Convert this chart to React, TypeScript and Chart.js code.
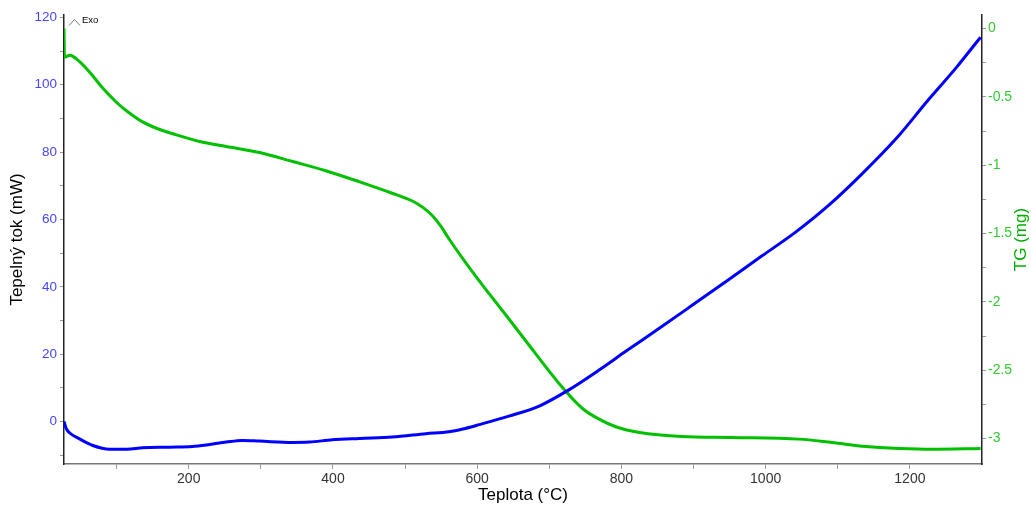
import React, { useEffect, useRef } from 'react';
import { Chart, registerables } from 'chart.js';

Chart.register(...registerables);

// DSC curve (heat flow, mW) vs temperature (°C)
const dscTemp = [27, 30, 35, 49, 67, 90, 114, 136, 173, 205, 229, 252, 274, 298, 344, 367, 399, 437, 482, 529, 561, 580, 603, 644, 686, 727, 769, 807, 852, 898, 949, 995, 1042, 1088, 1134, 1181, 1226, 1264, 1298];
const dscHeat = [0, -2.0, -3.4, -5.2, -7.1, -8.2, -8.2, -7.8, -7.6, -7.4, -6.8, -6.1, -5.6, -5.8, -6.2, -6.1, -5.4, -5.0, -4.6, -3.6, -3.0, -2.2, -0.9, 1.6, 4.6, 9.4, 15.3, 21.0, 27.6, 34.5, 42.2, 49.2, 56.3, 64.3, 73.6, 84.0, 95.6, 105.0, 114.1];

// TG curve (mass change, mg) vs temperature (°C)
const tgTemp = [27, 27.6, 35, 49, 67, 80, 100, 114, 136, 159, 183, 215, 252, 298, 344, 391, 437, 482, 510, 525, 538, 550, 561, 585, 607, 621, 644, 668, 714, 746, 769, 793, 825, 884, 953, 1046, 1092, 1139, 1185, 1231, 1298];
const tgMass = [0, -0.21, -0.195, -0.244, -0.347, -0.432, -0.541, -0.603, -0.683, -0.737, -0.778, -0.827, -0.863, -0.907, -0.973, -1.042, -1.122, -1.205, -1.262, -1.31, -1.37, -1.45, -1.54, -1.72, -1.875, -1.97, -2.125, -2.29, -2.6, -2.78, -2.858, -2.915, -2.955, -2.985, -2.992, -3.004, -3.029, -3.058, -3.072, -3.078, -3.072];

// Tick positions (minor + major); labels shown on majors only
const xTicks = [100, 200, 300, 400, 500, 600, 700, 800, 900, 1000, 1100, 1200];
const leftTicks = [-10, 0, 10, 20, 30, 40, 50, 60, 70, 80, 90, 100, 110, 120];
const rightTicks = [0, -0.25, -0.5, -0.75, -1, -1.25, -1.5, -1.75, -2, -2.25, -2.5, -2.75, -3];

const xTitle = 'Teplota (°C)';
const leftTitle = 'Tepelný tok (mW)';
const rightTitle = 'TG (mg)';
const exoLabel = 'Exo';

const FONT = "Arial, 'Liberation Sans', sans-serif";

const titlesPlugin = {
  id: 'customTitles',
  afterDraw(chart: any) {
    const ctx = chart.ctx as CanvasRenderingContext2D;
    const area = chart.chartArea;
    const cy = (area.top + area.bottom) / 2;
    const cx = (area.left + area.right) / 2;
    ctx.save();
    ctx.textAlign = 'center';
    ctx.textBaseline = 'middle';
    ctx.font = `17px ${FONT}`;
    // bottom title
    ctx.fillStyle = '#000';
    ctx.fillText(xTitle, cx, 495);
    // left title
    ctx.save();
    ctx.translate(17, cy);
    ctx.rotate(-Math.PI / 2);
    ctx.fillText(leftTitle, 0, 0);
    ctx.restore();
    // right title
    ctx.save();
    ctx.fillStyle = '#00b000';
    ctx.translate(1021, cy);
    ctx.rotate(-Math.PI / 2);
    ctx.fillText(rightTitle, 0, 0);
    ctx.restore();
    // Exo marker
    ctx.strokeStyle = '#777';
    ctx.lineWidth = 1;
    ctx.beginPath();
    ctx.moveTo(area.left + 5, area.top + 10.5);
    ctx.lineTo(area.left + 10.5, area.top + 4.5);
    ctx.lineTo(area.left + 16, area.top + 10.5);
    ctx.stroke();
    ctx.fillStyle = '#000';
    ctx.font = `9.5px ${FONT}`;
    ctx.textAlign = 'left';
    ctx.fillText(exoLabel, area.left + 18, area.top + 5.5);
    ctx.restore();
  },
};

export default function App() {
  const canvasRef = useRef<HTMLCanvasElement>(null);

  useEffect(() => {
    if (!canvasRef.current) return;
    const chart = new Chart(canvasRef.current, {
      type: 'line',
      data: {
        datasets: [
          {
            label: 'DSC',
            data: dscTemp.map((t, i) => ({ x: t, y: dscHeat[i] })),
            borderColor: '#0000ff',
            borderWidth: 3,
            pointRadius: 0,
            cubicInterpolationMode: 'monotone',
            yAxisID: 'y',
          },
          {
            label: 'TG',
            data: tgTemp.map((t, i) => ({ x: t, y: tgMass[i] })),
            borderColor: '#00c000',
            borderWidth: 3,
            pointRadius: 0,
            cubicInterpolationMode: 'monotone',
            yAxisID: 'y1',
          },
        ],
      },
      options: {
        animation: false,
        responsive: true,
        maintainAspectRatio: false,
        layout: { padding: { top: 15, left: 0, right: 0, bottom: 0 } },
        plugins: { legend: { display: false }, tooltip: { enabled: false } },
        scales: {
          x: {
            type: 'linear',
            position: 'bottom',
            min: 27,
            max: 1300,
            afterBuildTicks: (scale: any) => {
              scale.ticks = xTicks.map((v) => ({ value: v }));
            },
            afterFit: (scale: any) => {
              scale.height = 42;
            },
            ticks: {
              autoSkip: false,
              maxRotation: 0,
              color: '#333',
              font: { family: FONT, size: 14 },
              padding: 2,
              callback: (v: any) => (Number(v) % 200 === 0 ? String(v) : ''),
            },
            grid: { drawOnChartArea: false, drawTicks: true, tickLength: 5, color: '#999' },
            border: { display: true, color: '#777', width: 1.5 },
          },
          y: {
            type: 'linear',
            position: 'left',
            min: -12.6,
            max: 120.7,
            afterBuildTicks: (scale: any) => {
              scale.ticks = leftTicks.map((v) => ({ value: v }));
            },
            afterFit: (scale: any) => {
              scale.width = 64;
            },
            ticks: {
              autoSkip: false,
              color: '#4646ff',
              font: { family: FONT, size: 13.5 },
              padding: 3,
              callback: (v: any) => (Number(v) % 20 === 0 ? String(v) : ''),
            },
            grid: { drawOnChartArea: false, drawTicks: true, tickLength: 4, color: '#999' },
            border: { display: true, color: '#222', width: 1.5 },
          },
          y1: {
            type: 'linear',
            position: 'right',
            min: -3.186,
            max: 0.099,
            afterBuildTicks: (scale: any) => {
              scale.ticks = rightTicks.map((v) => ({ value: v }));
            },
            afterFit: (scale: any) => {
              scale.width = 49;
            },
            ticks: {
              autoSkip: false,
              color: '#33cc33',
              font: { family: FONT, size: 14 },
              padding: 2,
              callback: (v: any) => {
                const n = Number(v);
                return Math.abs(n * 2 - Math.round(n * 2)) < 1e-9 ? String(n === 0 ? 0 : n) : '';
              },
            },
            grid: { drawOnChartArea: false, drawTicks: true, tickLength: 4, color: '#999' },
            border: { display: true, color: '#222', width: 1.5 },
          },
        },
      },
      plugins: [titlesPlugin],
    } as any);
    return () => chart.destroy();
  }, []);

  return (
    <div style={{ position: 'fixed', left: 0, top: 0, width: 1031, height: 506, background: '#fff' }}>
      <canvas ref={canvasRef} />
    </div>
  );
}
